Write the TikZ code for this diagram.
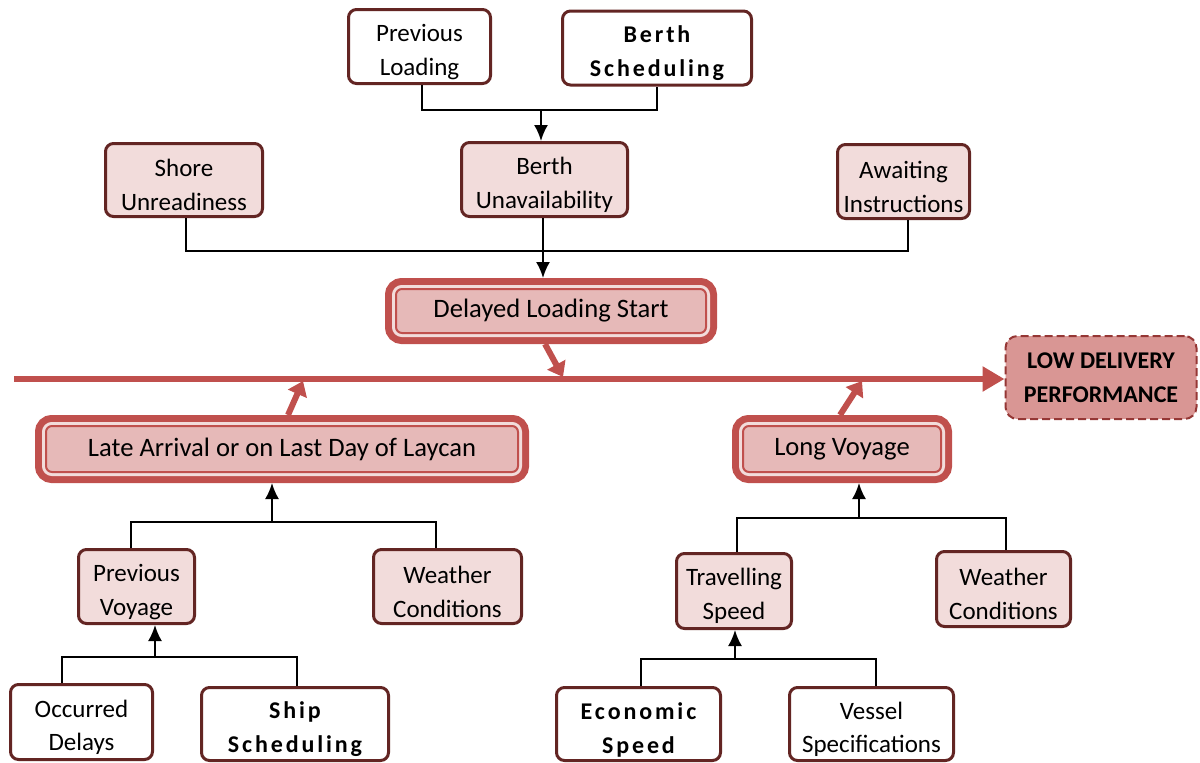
\documentclass[tikz,border=0pt]{standalone}
\usepackage{fontspec}
\setmainfont{Carlito}
\newfontfamily\widefont[LetterSpace=12]{Carlito}
\usetikzlibrary{arrows.meta}
\definecolor{mainred}{HTML}{C0504D}
\definecolor{mainfill}{HTML}{E6B9B8}
\definecolor{lightred}{HTML}{F2DCDB}
\definecolor{darkred}{HTML}{632523}
\definecolor{perffill}{HTML}{D99694}
\definecolor{perfline}{HTML}{953735}
\newcommand{\twolines}[2]{\rule{0pt}{14pt}#1\\#2}
\tikzset{>={Latex[length=8pt,width=7pt]}}
\tikzset{
  leaf/.style={align=center,font=\fontsize{12.5pt}{17pt}\selectfont,draw=darkred,
    line width=1.5pt,rounded corners=4pt,fill=white,inner sep=0pt},
  wideleaf/.style={leaf,font=\widefont\bfseries\fontsize{12pt}{17pt}\selectfont},
  factor/.style={leaf,fill=lightred},
  mainbox/.style={align=center,font=\fontsize{13.3pt}{15pt}\selectfont,inner sep=0pt,
    fill=mainfill,draw=mainred,line width=1pt,rounded corners=3pt,
    preaction={draw=mainred,line width=11pt},preaction={draw=lightred,line width=4pt},
    outer sep=5.5pt},
  result/.style={align=center,font=\bfseries\fontsize{12pt}{17pt}\selectfont,
    fill=perffill,draw=perfline,line width=1pt,dash pattern=on 4pt off 2pt,
    rounded corners=6pt,inner sep=0pt},
  link/.style={line width=1pt},
  redarrow/.style={draw=mainred,line width=3pt,-{Triangle[length=7pt,width=10pt]}},
  mainline/.style={draw=mainred,line width=3pt,-{Triangle[length=11pt,width=12pt]}}
}

\begin{document}
\begin{tikzpicture}[x=0.5pt,y=-0.5pt]
  \useasboundingbox (0,0) rectangle (1200,762);

  \node[leaf,minimum width=71pt,minimum height=37pt]       (prevload)   at (419.5,46.5) {\twolines{Previous}{Loading}};
  \node[wideleaf,minimum width=94.5pt,minimum height=37pt] (berthsched) at (657,48)    {\twolines{Berth}{Scheduling}};
  \node[factor,minimum width=78.5pt,minimum height=36.5pt] (shore)      at (184,180)   {\twolines{Shore}{Unreadiness}};
  \node[factor,minimum width=83pt,minimum height=37pt]     (berthun)    at (544.5,179.5) {\twolines{Berth}{Unavailability}};
  \node[factor,minimum width=66pt,minimum height=37pt]     (await)      at (903.5,181.5) {\twolines{Awaiting}{Instructions}};
  \node[mainbox,minimum width=155pt,minimum height=22pt]   (delayed)    at (551,311)   {Delayed Loading Start};
  \node[result,minimum width=95.5pt,minimum height=41.5pt] (lowperf)    at (1101,377.5) {LOW DELIVERY\\PERFORMANCE};
  \node[mainbox,minimum width=236pt,minimum height=23pt]   (late)       at (282,449)   {Late Arrival or on Last Day of Laycan};
  \node[mainbox,minimum width=99pt,minimum height=23pt]    (longvoy)    at (842,449)   {Long Voyage};
  \node[factor,minimum width=58pt,minimum height=37pt]     (prevvoy)    at (136.5,586.5) {\twolines{Previous}{Voyage}};
  \node[factor,minimum width=74pt,minimum height=37pt]     (weatherL)   at (447.5,586.5) {\twolines{Weather}{Conditions}};
  \node[leaf,minimum width=71pt,minimum height=37.5pt]     (occdel)     at (81.5,722)  {\twolines{Occurred}{Delays}};
  \node[wideleaf,minimum width=93.5pt,minimum height=36.5pt] (shipsched) at (295,724)  {\twolines{Ship}{Scheduling}};
  \node[factor,minimum width=57.5pt,minimum height=37.5pt] (travspeed)  at (734,591)   {\twolines{Travelling}{Speed}};
  \node[factor,minimum width=67pt,minimum height=37.5pt]   (weatherR)   at (1003.5,589) {\twolines{Weather}{Conditions}};
  \node[wideleaf,minimum width=82pt,minimum height=36.5pt] (ecospeed)   at (638.5,724) {\twolines{Economic}{Speed}};
  \node[leaf,minimum width=82pt,minimum height=36.5pt]     (vesselspec) at (871.5,724) {\twolines{Vessel}{Specifications}};

  \coordinate (j1) at (541,110);
  \coordinate (j2) at (543,251);
  \coordinate (j3) at (272,522);
  \coordinate (j4) at (155,657);
  \coordinate (j5) at (859,518);
  \coordinate (j6) at (735,659);
  \draw[link] ([xshift=1pt]prevload.south) |- (j1) -| (berthsched.south);
  \draw[link,->] (j1) -- (j1 |- berthun.north);
  \draw[link] ([xshift=1pt]shore.south) |- (j2) -| ([xshift=2pt]await.south);
  \draw[link,->] (j2 |- berthun.south) -- (j2 |- delayed.north);
  \draw[link] ([xshift=-3pt]prevvoy.north) |- (j3) -| ([xshift=-6pt]weatherL.north);
  \draw[link,->] (j3) -- (j3 |- late.south);
  \draw[link] ([xshift=-10pt]occdel.north) |- (j4) -| ([xshift=1pt]shipsched.north);
  \draw[link,->] (j4) -- (j4 |- prevvoy.south);
  \draw[link] ([xshift=1.5pt]travspeed.north) |- (j5) -| ([xshift=1pt]weatherR.north);
  \draw[link,->] (j5) -- (j5 |- longvoy.south);
  \draw[link] ([xshift=1pt]ecospeed.north) |- (j6) -| ([xshift=2pt]vesselspec.north);
  \draw[link,->] (j6) -- (j6 |- travspeed.south);

  \coordinate (start) at (14,379);
  \coordinate (m1) at (563,377);
  \coordinate (m2) at (303,381);
  \coordinate (m3) at (862,381);
  \draw[mainline] (start) -- (start -| lowperf.west);
  \draw[redarrow] ([xshift=-3pt]delayed.south) -- (m1);
  \draw[redarrow] ([xshift=3pt]late.north) -- (m2);
  \draw[redarrow] ([xshift=-1pt]longvoy.north) -- (m3);
\end{tikzpicture}
\end{document}
